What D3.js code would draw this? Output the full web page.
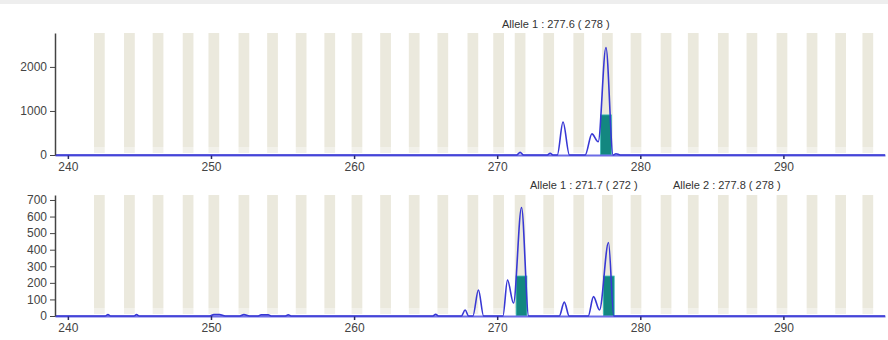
<!DOCTYPE html>
<html>
<head>
<meta charset="utf-8">
<script src="https://cdn.jsdelivr.net/npm/d3@7"></script>
<style>
  body { margin: 0; background: #fff; }
  svg { display: block; font-family: Arial, "Liberation Sans", sans-serif; }
</style>
</head>
<body>
<div class="chart"></div>
<script>
// bin centres (bp)
var binCenters = [242.2, 244.3, 246.3, 248.4, 250.2, 252.3, 254.3, 256.3, 258.3, 260.2,
                  262.2, 264.2, 266.2, 268.3, 270.1, 271.6, 273.6, 275.7, 277.7, 279.7,
                  281.8, 283.7, 285.8, 287.8, 289.9, 292.0, 294.0, 295.9];
var binWidth = 0.75;

var xTicks = [240, 250, 260, 270, 280, 290];
var topYTicks = [0, 1000, 2000];
var lowYTicks = [0, 100, 200, 300, 400, 500, 600, 700];

// traces: [size bp, rfu]
var topTrace = [
  [239.1, 0], [271.35, 0], [271.6, 60], [271.85, 0],
  [273.5, 0], [273.7, 40], [273.9, 0],
  [274.2, 0], [274.6, 750], [275.05, 0],
  [276.15, 0], [276.62, 480], [277.06, 300], [277.6, 2440], [278.1, 0],
  [278.3, 30], [278.6, 0], [297.1, 0]
];
var lowTrace = [
  [239.1, 0], [242.6, 0], [242.8, 8], [243.0, 0], [244.6, 0], [244.8, 8], [245.0, 0],
  [249.9, 0], [250.2, 8], [250.6, 8], [251.0, 0], [252.0, 0], [252.3, 8], [252.7, 0],
  [253.3, 0], [253.5, 7], [254.0, 7], [254.2, 0], [255.2, 0], [255.4, 7], [255.6, 0],
  [265.5, 0], [265.7, 10], [265.9, 0],
  [267.5, 0], [267.76, 36], [268.0, 0],
  [268.3, 0], [268.69, 157], [269.05, 0],
  [270.4, 0], [270.72, 217], [271.14, 78], [271.7, 655], [272.2, 0],
  [274.34, 0], [274.69, 84], [275.03, 0],
  [276.36, 0], [276.73, 117], [277.15, 36], [277.78, 443], [278.15, 0],
  [297.1, 0]
];

// called alleles: size, bin, filled height
var topAlleleSize = [277.6];
var topAlleleBin = [278];
var topAlleleFill = [910];
var lowAlleleSize = [271.7, 277.8];
var lowAlleleBin = [272, 278];
var lowAlleleFill = [241, 241];

var w = 888, h = 340;
var svg = d3.select(".chart").append("svg").attr("width", w).attr("height", h);

svg.append("rect").attr("x", 0).attr("y", 0).attr("width", w).attr("height", 4).attr("fill", "#eeeeee");

var x = d3.scaleLinear().domain([239.1, 297.1]).range([55, 885]);

function panel(cfg) {
  var y = d3.scaleLinear().domain([0, cfg.ymax]).range([cfg.y0, cfg.y1]);
  var g = svg.append("g");

  // bins
  g.selectAll(".bin").data(binCenters).enter().append("rect")
    .attr("class", "bin")
    .attr("x", function(d) { return x(d - binWidth / 2); })
    .attr("width", function(d) { return x(d + binWidth / 2) - x(d - binWidth / 2); })
    .attr("y", y(cfg.ymax))
    .attr("height", y(0) - y(cfg.ymax) - 8)
    .attr("fill", "#ebe9dd");
  g.selectAll(".binfoot").data(binCenters).enter().append("rect")
    .attr("class", "binfoot")
    .attr("x", function(d) { return x(d - binWidth / 2); })
    .attr("width", function(d) { return x(d + binWidth / 2) - x(d - binWidth / 2); })
    .attr("y", y(0) - 8)
    .attr("height", 6)
    .attr("fill", "#f2f1ea");

  // allele fill
  g.selectAll(".allele").data(cfg.sizes).enter().append("rect")
    .attr("class", "allele")
    .attr("x", function(d) { return x(d - binWidth / 2); })
    .attr("width", function(d) { return x(d + binWidth / 2) - x(d - binWidth / 2); })
    .attr("y", function(d, i) { return y(cfg.fills[i]); })
    .attr("height", function(d, i) { return y(0) - y(cfg.fills[i]); })
    .attr("fill", "#138780")
    .attr("stroke", "#33b8b2")
    .attr("stroke-width", 0.8);

  // x axis
  var xa = g.append("g").attr("transform", "translate(0," + y(0) + ")")
    .call(d3.axisBottom(x).tickValues(xTicks).tickSize(4).tickPadding(3).tickSizeOuter(0));
  xa.select(".domain").attr("stroke", "#6d6de6").attr("stroke-width", 2);
  xa.selectAll(".tick line").attr("stroke", "#2a2a60").attr("stroke-width", 1.5);
  xa.selectAll("text").attr("font-size", "12px").attr("fill", "#444");

  // trace
  var line = d3.line()
    .x(function(d) { return x(d[0]); })
    .y(function(d) { return y(d[1]); })
    .curve(d3.curveMonotoneX);
  g.append("path").datum(cfg.trace)
    .attr("d", line)
    .attr("fill", "none")
    .attr("stroke", "#3838d4")
    .attr("stroke-width", 1.6);

  // y axis
  var ya = g.append("g").attr("transform", "translate(55,0)")
    .call(d3.axisLeft(y).tickValues(cfg.yticks).tickFormat(d3.format("d"))
      .tickSize(5).tickPadding(3).tickSizeOuter(0));
  ya.select(".domain").attr("stroke", "#444").attr("stroke-width", 1.5);
  ya.selectAll(".tick line").attr("stroke", "#444");
  ya.selectAll("text").attr("font-size", "12px").attr("fill", "#444");

  // allele labels
  g.selectAll(".lab").data(cfg.sizes).enter().append("text")
    .attr("class", "lab")
    .attr("x", function(d, i) { return cfg.labelX[i]; })
    .attr("y", cfg.labelY)
    .attr("font-size", "11px")
    .attr("fill", "#333")
    .text(function(d, i) { return "Allele " + (i + 1) + " : " + d.toFixed(1) + " ( " + cfg.bins[i] + " )"; });
}

panel({ ymax: 2770, y0: 155, y1: 33, yticks: topYTicks, trace: topTrace,
        sizes: topAlleleSize, bins: topAlleleBin, fills: topAlleleFill,
        labelX: [502], labelY: 28 });
panel({ ymax: 730, y0: 316, y1: 195, yticks: lowYTicks, trace: lowTrace,
        sizes: lowAlleleSize, bins: lowAlleleBin, fills: lowAlleleFill,
        labelX: [530, 673], labelY: 189 });
</script>
</body>
</html>
